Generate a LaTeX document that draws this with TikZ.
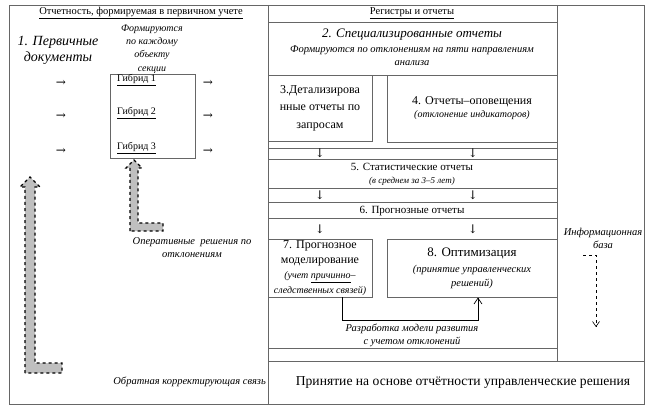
\documentclass[tikz,border=0pt]{standalone}
\usepackage{fontspec}
\setmainfont{Liberation Serif}
\newfontfamily\arrowfont{DejaVu Serif}
\usetikzlibrary{arrows.meta}

\tikzset{
	grid/.style={draw=black!60, line width=0.8pt},
	cellbox/.style={grid, inner sep=1pt, align=center},
	txt/.style={inner sep=0pt, align=center},
	small/.style={txt, font=\fontsize{10.5}{13}\selectfont\itshape},
	head/.style={txt, font=\fontsize{10.5}{12}\selectfont},
	sym/.style={txt, font=\fontsize{12}{12}\arrowfont},
	fatarrow/.style={fill=black!25, draw=black, dashed, line width=1.2pt},
	link/.style={draw=black, line width=0.7pt}
}

\begin{document}
\begin{tikzpicture}[x=1pt, y=-1pt]
	\useasboundingbox (0, 0) rectangle (651, 409);

	\draw[grid] (9, 5) rectangle (644, 404);
	\draw[grid] (268, 5) -- (268, 404);
	\draw[grid] (557, 5) -- (557, 361);
	\draw[grid] (268, 22) -- (557, 22);
	\draw[grid] (268, 75) -- (557, 75);
	\draw[grid] (268, 148) -- (557, 148);
	\draw[grid] (268, 159) -- (557, 159);
	\draw[grid] (268, 188) -- (557, 188);
	\draw[grid] (268, 202) -- (557, 202);
	\draw[grid] (268, 218) -- (557, 218);
	\draw[grid] (268, 348) -- (557, 348);
	\draw[grid] (268, 361) -- (644, 361);

	\node[head] (lhead) at (141, 13) {\underline{Отчетность, формируемая в первичном учете}};
	\node[txt, font=\fontsize{14}{16}\selectfont\itshape] (prim) at (58, 50) {1. Первичные\\документы};
	\node[txt, font=\fontsize{10}{13.4}\selectfont\itshape] (form) at (152, 49) {Формируются\\по каждому\\объекту\\секции};

	\node[cellbox, minimum width=85, minimum height=84] (gib) at (152.5, 116) {};
	\node[txt, font=\fontsize{10}{11}\selectfont, anchor=west] (g1) at (117, 80) {\underline{Гибрид 1}};
	\node[txt, font=\fontsize{10}{11}\selectfont, anchor=west] (g2) at (117, 113) {\underline{Гибрид 2}};
	\node[txt, font=\fontsize{10}{11}\selectfont, anchor=west] (g3) at (117, 148) {\underline{Гибрид 3}};

	\node[sym] (in1) at (61, 83) {→};
	\node[sym] (in2) at (61, 116) {→};
	\node[sym] (in3) at (61, 151) {→};
	\node[sym] (out1) at (208, 83) {→};
	\node[sym] (out2) at (208, 116) {→};
	\node[sym] (out3) at (208, 151) {→};

	\draw[fatarrow] (130, 231) -- (130, 168) -- (126, 168) -- (134, 160) -- (142, 168) -- (138, 168) -- (138, 223) -- (163, 223) -- (163, 231) -- cycle;
	\node[small] (oper) at (192, 248) {Оперативные \ решения по\\отклонениям};

	\draw[fatarrow] (25, 373) -- (25, 187) -- (20, 187) -- (30, 177) -- (40, 187) -- (35, 187) -- (35, 363) -- (62, 363) -- (62, 373) -- cycle;
	\node[small, anchor=east] (obr) at (266, 382) {Обратная корректирующая связь};

	\node[head] (rhead) at (412, 13) {\underline{Регистры и отчеты}};
	\node[txt, font=\fontsize{13}{15}\selectfont\itshape] (spec) at (412, 35) {2. Специализированные отчеты};
	\node[small] (spec2) at (412, 56) {Формируются по отклонениям на пяти направлениям\\анализа};

	\node[cellbox, minimum width=104, minimum height=66, font=\fontsize{12}{17.5}\selectfont] (det) at (320, 108) {3.Детализирова\\нные отчеты по\\запросам};
	\node[cellbox, minimum width=170, minimum height=67] (opov) at (472, 108.5) {\fontsize{12}{15}\selectfont 4. Отчеты–оповещения\\[1pt]\fontsize{10}{11}\selectfont\itshape (отклонение индикаторов)};

	\node[sym] (d1) at (320, 153) {↓};
	\node[sym] (d2) at (473, 153) {↓};
	\node[txt] (stat) at (412, 174) {\fontsize{11}{14}\selectfont 5. Статистические отчеты\\[1pt]\fontsize{9}{10}\selectfont\itshape (в среднем за 3–5 лет)};
	\node[sym] (d3) at (320, 195) {↓};
	\node[sym] (d4) at (473, 195) {↓};
	\node[txt, font=\fontsize{11}{13}\selectfont] (progn) at (412, 211) {6. Прогнозные отчеты};
	\node[sym] (d5) at (320, 229) {↓};
	\node[sym] (d6) at (473, 229) {↓};

	\node[cellbox, minimum width=104, minimum height=58, font=\fontsize{12}{15}\selectfont] (model) at (320, 268) {7. Прогнозное\\моделирование\\\fontsize{10}{13}\selectfont\itshape (учет \underline{причинно}–\\\fontsize{10}{13}\selectfont\itshape следственных связей)};
	\node[cellbox, minimum width=170, minimum height=58, font=\fontsize{10.5}{14}\selectfont\itshape] (opt) at (472, 268) {\fontsize{13}{15}\selectfont\upshape 8. Оптимизация\\[2pt](принятие управленческих\\решений)};

	\coordinate (c1) at (342, 320);
	\coordinate (c2) at (478, 320);
	\draw[link, -{Straight Barb[length=6pt, width=8pt]}] (model.south -| c1) -- (c1) -- (c2) -- (opt.south -| c2);
	\node[small] (razr) at (412, 335) {Разработка модели развития\\с учетом отклонений};

	\node[txt, font=\fontsize{13.6}{15}\selectfont] (prin) at (463, 383) {Принятие на основе отчётности управленческие решения};

	\node[small] (info) at (603, 238) {Информационная\\база};
	\coordinate (i1) at (583, 255);
	\coordinate (i2) at (596, 255);
	\coordinate (i3) at (596, 327);
	\draw[link, dashed, line width=0.6pt, -{Straight Barb[length=5pt, width=7pt]}] (i1) -- (i2) -- (i3);
\end{tikzpicture}
\end{document}
